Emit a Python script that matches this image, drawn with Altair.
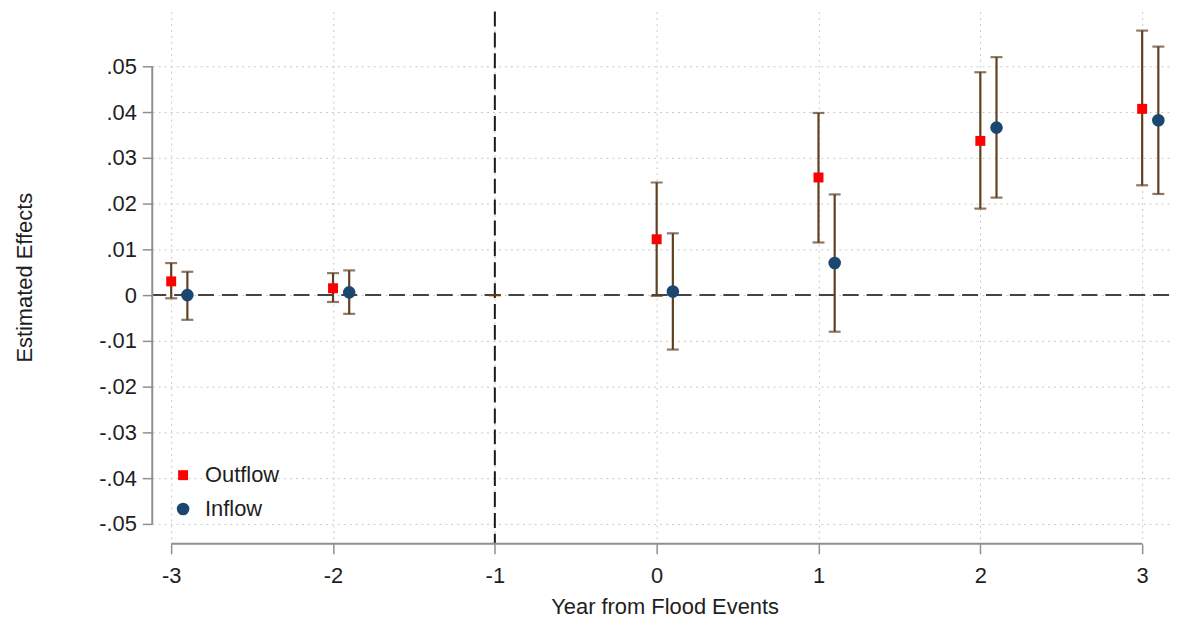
import altair as alt
import pandas as pd

# ---- data ----
series_names = ["Outflow", "Inflow"]
out_years = [-3, -2, 0, 1, 2, 3]
out_est = [0.0030, 0.0015, 0.0122, 0.0257, 0.0337, 0.0407]
out_lo = [-0.0007, -0.0015, -0.0002, 0.0115, 0.0189, 0.0240]
out_hi = [0.0070, 0.0048, 0.0246, 0.0398, 0.0487, 0.0578]

in_years = [-2.9, -1.9, 0.1, 1.1, 2.1, 3.1]
in_est = [0.0000, 0.0006, 0.0008, 0.0070, 0.0366, 0.0382]
in_lo = [-0.0054, -0.0041, -0.0119, -0.0080, 0.0213, 0.0221]
in_hi = [0.0051, 0.0054, 0.0135, 0.0220, 0.0520, 0.0543]

ref_year = [-1]
ref_est = [0.0]

x_ticks = [-3, -2, -1, 0, 1, 2, 3]
y_ticks = [-0.05, -0.04, -0.03, -0.02, -0.01, 0.0, 0.01, 0.02, 0.03, 0.04, 0.05]

pts = pd.DataFrame({
    "year": out_years + in_years,
    "est": out_est + in_est,
    "lo": out_lo + in_lo,
    "hi": out_hi + in_hi,
    "series": ["Outflow"] * len(out_years) + ["Inflow"] * len(in_years),
})
caps = pd.concat([
    pts[["year", "lo", "hi"]],
    pd.DataFrame({"year": ref_year, "lo": ref_est, "hi": ref_est}),
], ignore_index=True)
caps_lo = caps.rename(columns={"lo": "cap"})[["year", "cap"]]
caps_hi = caps.rename(columns={"hi": "cap"})[["year", "cap"]]
cap_df = pd.concat([caps_lo, caps_hi], ignore_index=True)

W, H = 1022, 535
FONT = "Liberation Sans"
FS = 22
TXT = "#1e1e1e"
AX = "#8f8f8f"
BROWN = "#5f4020"

xs = alt.Scale(domain=[-3.117, 3.166], nice=False, zero=False)
ys = alt.Scale(domain=[-0.05435, 0.06196], nice=False, zero=False)

xaxis = alt.Axis(
    values=x_ticks, domain=False, ticks=True, tickSize=10, tickColor=AX, tickWidth=1.5,
    grid=True, gridColor="#c8c8c8", gridDash=[2, 4], gridWidth=1,
    labelFont=FONT, labelFontSize=FS, labelColor=TXT, labelPadding=12,
    labelExpr="(datum.value < 0 ? '-' : '') + abs(datum.value)",
    title="Year from Flood Events", titleFont=FONT, titleFontSize=FS,
    titleFontWeight="normal", titleColor=TXT,
    titleX=515, titleY=63, titleBaseline="middle", titleAlign="center",
)
yaxis = alt.Axis(
    values=y_ticks, domain=False, ticks=True, tickSize=10, tickColor=AX, tickWidth=1.5,
    grid=True, gridColor="#c8c8c8", gridDash=[2, 4], gridWidth=1,
    labelFont=FONT, labelFontSize=FS, labelColor=TXT, labelPadding=6,
    labelExpr="datum.value == 0 ? '0' : (datum.value < 0 ? '-' : '') + '.0' + abs(round(datum.value * 100))",
    title="Estimated Effects", titleFont=FONT, titleFontSize=FS,
    titleFontWeight="normal", titleColor=TXT,
    titleX=-128, titleY=267, titleBaseline="middle", titleAlign="center", titleAngle=270,
)


def X(f):
    return alt.X(f, type="quantitative", scale=xs, axis=xaxis)


def Y(f):
    return alt.Y(f, type="quantitative", scale=ys, axis=yaxis)


zero_line = alt.Chart(pd.DataFrame({"v": [0.0]})).mark_rule(
    color="#444444", strokeWidth=2, strokeDash=[16, 8]
).encode(y=Y("v"))

ref_line = alt.Chart(pd.DataFrame({"year": ref_year})).mark_rule(
    color="#1a1a1a", strokeWidth=2, strokeDash=[15, 6]
).encode(x=X("year"))

y_domain = alt.Chart(pd.DataFrame({"lo": [y_ticks[0]], "hi": [y_ticks[-1]]})).mark_rule(
    color=AX, strokeWidth=2
).encode(x=alt.value(0), y=Y("lo"), y2="hi")

x_domain = alt.Chart(pd.DataFrame({"lo": [x_ticks[0]], "hi": [x_ticks[-1]]})).mark_rule(
    color=AX, strokeWidth=2
).encode(y=alt.value(H), x=X("lo"), x2="hi")

bars = alt.Chart(pts).mark_rule(color=BROWN, strokeWidth=2.2).encode(
    x=X("year"), y=Y("lo"), y2="hi"
)

cap_marks = alt.Chart(cap_df).mark_tick(
    color=BROWN, orient="horizontal", size=12, thickness=2.2
).encode(x=X("year"), y=Y("cap"))

leg = alt.Legend(
    title=None, orient="none", legendX=20, legendY=455,
    labelFont=FONT, labelFontSize=FS, labelColor=TXT,
    padding=0, rowPadding=12, labelOffset=11, symbolStrokeWidth=0,
)

points = alt.Chart(pts).mark_point(filled=True, opacity=1).encode(
    x=X("year"), y=Y("est"),
    color=alt.Color("series:N", scale=alt.Scale(domain=series_names, range=["#ff0000", "#1a476f"]), legend=leg),
    shape=alt.Shape("series:N", scale=alt.Scale(domain=series_names, range=["square", "circle"]), legend=leg),
    size=alt.Size("series:N", scale=alt.Scale(domain=series_names, range=[100, 160]), legend=leg),
)

chart = alt.layer(
    zero_line, ref_line, y_domain, x_domain, bars, cap_marks, points
).properties(
    width=W, height=H,
    autosize=alt.AutoSizeParams(type="none"),
    padding={"left": 145, "top": 2, "right": 3, "bottom": 76},
).configure(
    background="white",
    view=alt.ViewConfig(stroke="transparent", strokeWidth=0),
)

chart.save("out.html", embed_options={"renderer": "svg", "actions": False})
